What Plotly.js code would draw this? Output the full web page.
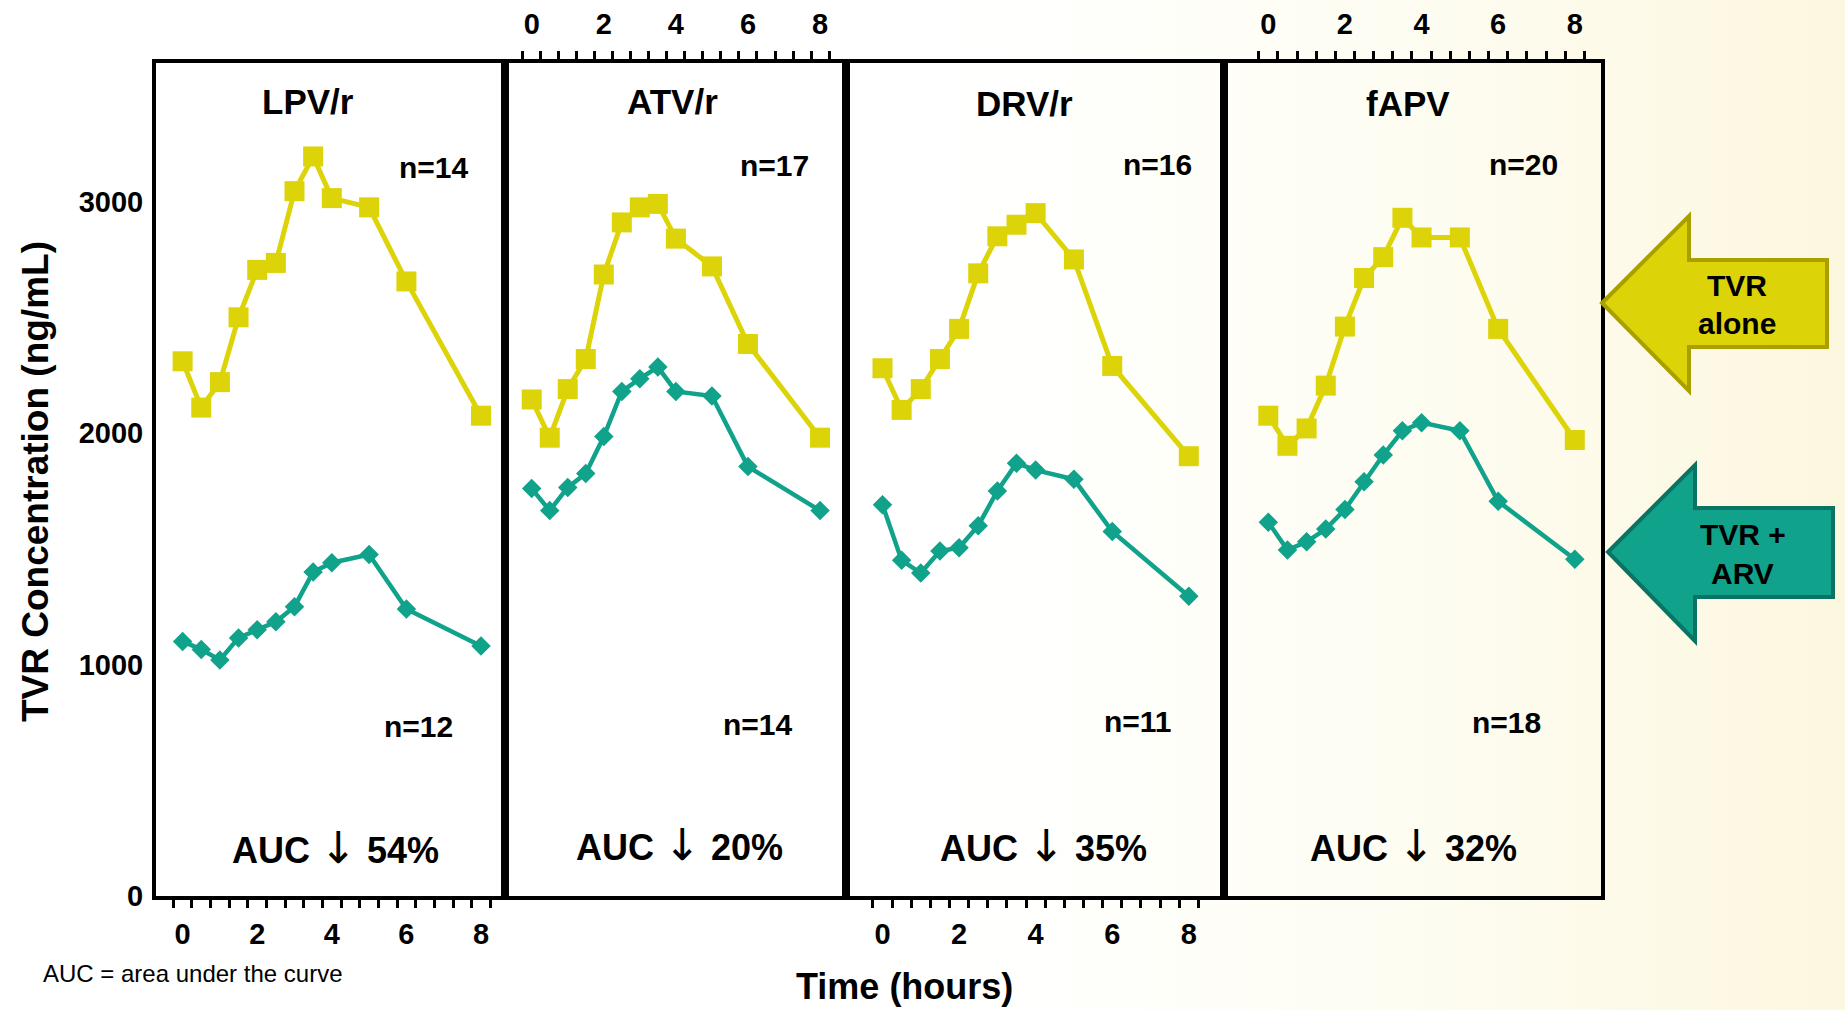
<!DOCTYPE html>
<html>
<head>
<meta charset="utf-8">
<script src="https://cdn.plot.ly/plotly-3.0.1.min.js"></script>
<style>
html,body{margin:0;padding:0;}
body{width:1845px;height:1010px;overflow:hidden;
background:linear-gradient(to right,#ffffff 0%,#ffffff 52%,#fefdf3 75%,#fcf7df 100%);}
#chart{width:1845px;height:1010px;}
</style>
</head>
<body>
<div id="chart"></div>
<script>
// ---------------- data ----------------
const hours = [0, 0.5, 1, 1.5, 2, 2.5, 3, 3.5, 4, 5, 6, 8];
const panelNames = ['LPV/r', 'ATV/r', 'DRV/r', 'fAPV'];

const lpvAlone  = [2310, 2110, 2220, 2500, 2705, 2735, 3045, 3195, 3015, 2975, 2655, 2075];
const lpvWith   = [1100, 1065, 1020, 1115, 1150, 1185, 1250, 1400, 1440, 1475, 1240, 1080];
const atvAlone  = [2145, 1980, 2190, 2320, 2685, 2910, 2975, 2990, 2840, 2720, 2385, 1980];
const atvWith   = [1760, 1665, 1765, 1825, 1985, 2180, 2235, 2285, 2180, 2160, 1855, 1665];
const drvAlone  = [2280, 2100, 2190, 2320, 2450, 2690, 2850, 2900, 2950, 2750, 2290, 1900];
const drvWith   = [1690, 1450, 1395, 1490, 1505, 1600, 1750, 1870, 1840, 1800, 1575, 1295];
const fapvAlone = [2075, 1945, 2020, 2205, 2460, 2670, 2760, 2930, 2845, 2845, 2450, 1970];
const fapvWith  = [1615, 1495, 1530, 1585, 1670, 1790, 1905, 2010, 2045, 2010, 1705, 1455];

const nAlone  = ['n=14', 'n=17', 'n=16', 'n=20'];
const nWith   = ['n=12', 'n=14', 'n=11', 'n=18'];
const aucDrop = ['54%', '20%', '35%', '32%'];

const xTickVals = [0, 2, 4, 6, 8];
const xTickText = ['0', '2', '4', '6', '8'];
const xMinorTicks = [-0.25, 0.25, 0.75, 1.25, 1.75, 2.25, 2.75, 3.25, 3.75, 4.25, 4.75, 5.25, 5.75, 6.25, 6.75, 7.25, 7.75, 8.25];
const yTickVals = [0, 1000, 2000, 3000];
const yTickText = ['0', '1000', '2000', '3000'];

const aloneLabel = ['TVR', 'alone'];
const withLabel  = ['TVR +', 'ARV'];
const yTitle = 'TVR Concentration (ng/mL)';
const xTitle = 'Time (hours)';
const footnote = 'AUC = area under the curve';

// ---------------- styling / layout ----------------
const W = 1845, H = 1010;
const px = x => x / W;
const py = y => 1 - y / H;

const YELLOW = '#DCD309';
const YELLOW_EDGE = '#A9A000';
const TEAL = '#10A28A';
const TEAL_EDGE = '#0A7363';
const FONT = 'Arial, "Liberation Sans", sans-serif';

const aloneSeries = [lpvAlone, atvAlone, drvAlone, fapvAlone];
const withSeries  = [lpvWith, atvWith, drvWith, fapvWith];

// panel pixel geometry
const panelEdges = [[156, 505], [505, 846], [846, 1224], [1224, 1601]];
const xRanges = [[-0.713, 8.643], [-0.741, 8.72], [-0.953, 8.919], [-1.156, 8.684]];
const xSides = ['bottom', 'top', 'bottom', 'top'];
const xStandoff = [9, 13, 9, 13];
const yDomain = [py(896), py(62.7)];

const titlePos = [[308, 102], [672, 102], [1024, 104], [1408, 104]];
const nTopPos  = [[434, 167], [774, 165], [1157, 164], [1523, 164]];
const nBotPos  = [[418, 726], [758, 724], [1138, 721], [1506, 722]];
const aucPos   = [[335, 847], [679, 844], [1043, 845], [1413, 845]];

const traces = [];
const layout = {
  width: W, height: H,
  margin: {l: 0, r: 0, t: 0, b: 0, pad: 0},
  paper_bgcolor: 'rgba(0,0,0,0)',
  plot_bgcolor: 'rgba(0,0,0,0)',
  showlegend: false,
  font: {family: FONT, color: '#000'},
  annotations: [],
  shapes: []
};

panelNames.forEach((name, i) => {
  const sfx = i === 0 ? '' : String(i + 1);
  const xa = 'x' + sfx, ya = 'y' + sfx;
  traces.push({
    x: hours, y: aloneSeries[i], xaxis: xa, yaxis: ya,
    type: 'scatter', mode: 'lines+markers', name: 'TVR alone',
    line: {color: YELLOW, width: 5},
    marker: {symbol: 'square', size: 20, color: YELLOW},
    cliponaxis: false
  });
  traces.push({
    x: hours, y: withSeries[i], xaxis: xa, yaxis: ya,
    type: 'scatter', mode: 'lines+markers', name: 'TVR + ARV',
    line: {color: TEAL, width: 4.5},
    marker: {symbol: 'diamond', size: 15, color: TEAL},
    cliponaxis: false
  });

  layout['xaxis' + sfx] = {
    domain: [px(panelEdges[i][0]), px(panelEdges[i][1])],
    range: xRanges[i],
    anchor: ya,
    side: xSides[i],
    showgrid: false, zeroline: false,
    showline: true, linecolor: '#000', linewidth: 4, mirror: true,
    tickmode: 'array', tickvals: xTickVals, ticktext: xTickText,
    ticks: '',
    ticklabelstandoff: xStandoff[i],
    tickfont: {family: FONT, size: 29, color: '#000', weight: 'bold'},
    minor: {tickmode: 'array', tickvals: xMinorTicks, ticks: 'outside',
            ticklen: 8, tickwidth: 3, tickcolor: '#000', showgrid: false},
    fixedrange: true
  };
  layout['yaxis' + sfx] = {
    domain: yDomain,
    range: [0, 3600],
    anchor: xa,
    showgrid: false, zeroline: false,
    showline: true, linecolor: '#000', linewidth: 4, mirror: true,
    tickmode: 'array', tickvals: yTickVals, ticktext: yTickText,
    ticks: '',
    showticklabels: i === 0,
    ticklabelstandoff: 3,
    tickfont: {family: FONT, size: 29, color: '#000', weight: 'bold'},
    fixedrange: true
  };

  const ann = (pos, text, size) => ({
    xref: 'paper', yref: 'paper', x: px(pos[0]), y: py(pos[1]),
    xanchor: 'center', yanchor: 'middle', showarrow: false,
    text: '<b>' + text + '</b>',
    font: {family: FONT, size: size, color: '#000'}
  });
  layout.annotations.push(ann(titlePos[i], name, 35));
  layout.annotations.push(ann(nTopPos[i], nAlone[i], 30));
  layout.annotations.push(ann(nBotPos[i], nWith[i], 30));
  layout.annotations.push(ann(aucPos[i],
    'AUC <span style="font-family:\'DejaVu Sans\';font-size:44px;font-weight:normal">\u2193</span> ' + aucDrop[i], 36));
});

// axis titles and footnote
layout.annotations.push({
  xref: 'paper', yref: 'paper', x: px(35), y: py(482),
  xanchor: 'center', yanchor: 'middle', textangle: -90, showarrow: false,
  text: '<b>' + yTitle + '</b>', font: {family: FONT, size: 37, color: '#000'}
});
layout.annotations.push({
  xref: 'paper', yref: 'paper', x: px(904), y: py(986),
  xanchor: 'center', yanchor: 'middle', showarrow: false,
  text: '<b>' + xTitle + '</b>', font: {family: FONT, size: 36, color: '#000'}
});
layout.annotations.push({
  xref: 'paper', yref: 'paper', x: px(41), y: py(973),
  xanchor: 'left', yanchor: 'middle', showarrow: false,
  text: footnote, font: {family: FONT, size: 24, color: '#000'}
});

// block arrows (legend keys) on the right
function arrowPath(tipX, tipY, headX, headTop, headBot, bodyTop, bodyBot, rightX) {
  const pts = [[tipX, tipY], [headX, headTop], [headX, bodyTop], [rightX, bodyTop],
               [rightX, bodyBot], [headX, bodyBot], [headX, headBot]];
  return 'M' + pts.map(p => px(p[0]) + ',' + py(p[1])).join(' L') + ' Z';
}
layout.shapes.push({
  type: 'path', xref: 'paper', yref: 'paper',
  path: arrowPath(1602, 303, 1689, 216, 391, 260, 347, 1827),
  fillcolor: YELLOW, line: {color: YELLOW_EDGE, width: 4}
});
layout.shapes.push({
  type: 'path', xref: 'paper', yref: 'paper',
  path: arrowPath(1608, 552, 1695, 465, 641, 508, 597, 1833),
  fillcolor: TEAL, line: {color: TEAL_EDGE, width: 4}
});
const arrowText = (x, y, t) => ({
  xref: 'paper', yref: 'paper', x: px(x), y: py(y),
  xanchor: 'center', yanchor: 'middle', showarrow: false,
  text: '<b>' + t + '</b>', font: {family: FONT, size: 30, color: '#000'}
});
layout.annotations.push(arrowText(1737, 285, aloneLabel[0]));
layout.annotations.push(arrowText(1737, 323, aloneLabel[1]));
layout.annotations.push(arrowText(1743, 534, withLabel[0]));
layout.annotations.push(arrowText(1742, 573, withLabel[1]));

Plotly.newPlot('chart', traces, layout, {displayModeBar: false, staticPlot: true});
</script>
</body>
</html>
